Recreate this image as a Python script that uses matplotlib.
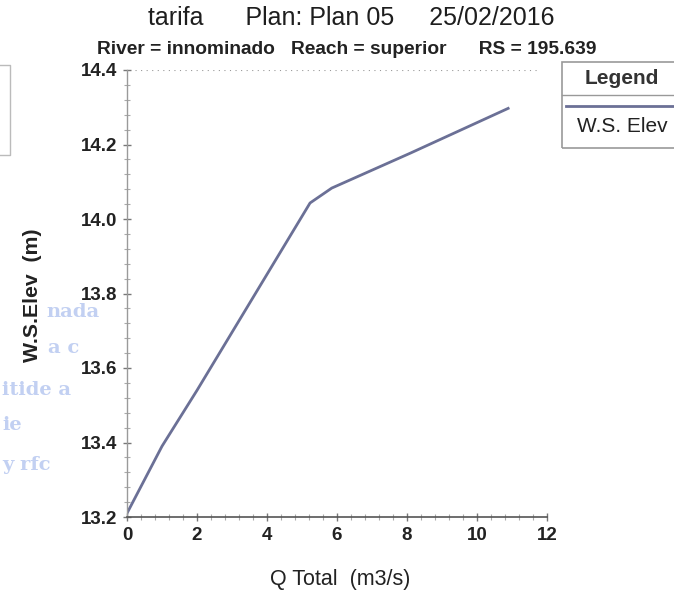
import matplotlib
matplotlib.use("Agg")
import matplotlib.pyplot as plt
from matplotlib.ticker import MultipleLocator
from matplotlib.lines import Line2D
from matplotlib.patches import Rectangle

plt.rcParams['font.family'] = ['Liberation Sans', 'DejaVu Sans']

q_total = [0.0, 1.0, 2.0, 5.23, 5.85, 8.1, 10.89]
ws_elev = [13.21, 13.39, 13.54, 14.043, 14.083, 14.177, 14.297]

title_line1 = "tarifa      Plan: Plan 05     25/02/2016"
title_line2 = "River = innominado   Reach = superior      RS = 195.639"
x_label = "Q Total  (m3/s)"
y_label = "W.S.Elev  (m)"
series_name = "W.S. Elev"
line_color = "#6b7096"

W, H = 674, 600
fig = plt.figure(figsize=(W / 100, H / 100), dpi=100)
ax = fig.add_axes([127 / W, 1 - 517 / H, 420 / W, 447 / H])

ax.plot(q_total, ws_elev, color=line_color, lw=2.0, solid_joinstyle='round')

ax.set_xlim(0, 12)
ax.set_ylim(13.2, 14.4)
ax.xaxis.set_major_locator(MultipleLocator(2))
ax.xaxis.set_minor_locator(MultipleLocator(0.4))
ax.yaxis.set_minor_locator(MultipleLocator(0.04))
ax.set_yticks([13.2, 13.4, 13.6, 13.8, 14.0, 14.2, 14.4])
ax.set_yticklabels(["13.2", "13.4", "13.6", "13.8", "14.0", "14.2", "14.4"])

for s in ['top', 'right']:
    ax.spines[s].set_visible(False)
ax.spines['left'].set_color('#9a9a9a')
ax.spines['bottom'].set_color('#555555')
ax.spines['left'].set_linewidth(1.0)
ax.spines['bottom'].set_linewidth(1.2)

ax.tick_params(axis='both', which='major', direction='inout', length=6, width=1,
               color='#777777', labelsize=13.5, labelcolor='#222222', pad=4)
ax.tick_params(axis='both', which='minor', direction='inout', length=4, width=0.8,
               color='#aaaaaa')
for lab in ax.get_xticklabels() + ax.get_yticklabels():
    lab.set_fontweight('bold')

# faint dotted artefact along top
ax.axhline(14.4, color='#999999', lw=0.8, ls=(0, (1, 4)), xmin=0.02, xmax=0.98)

fig.text(351 / W, 1 - 18 / H, title_line1, ha='center', va='center',
         fontsize=18, color='#1e1e1e')
fig.text(347 / W, 1 - 49 / H, title_line2, ha='center', va='center',
         fontsize=13.8, fontweight='bold', color='#222222')
fig.text(340 / W, 1 - 580 / H, x_label, ha='center', va='center',
         fontsize=15.5, color='#222222')
fig.text(33 / W, 1 - 295 / H, y_label, ha='center', va='center',
         fontsize=15.3, fontweight='bold', rotation=90, color='#222222')

# legend box (partially off the page)
fig.patches.append(Rectangle((562 / W, 1 - 148 / H), 130 / W, 86 / H,
                             transform=fig.transFigure, fill=False,
                             edgecolor='#999999', lw=1.2))
fig.lines.append(Line2D([562 / W, 1], [1 - 95 / H, 1 - 95 / H],
                        transform=fig.transFigure, color='#999999', lw=1.0))
fig.lines.append(Line2D([566 / W, 1], [1 - 106 / H, 1 - 106 / H],
                        transform=fig.transFigure, color=line_color, lw=2.0))
fig.text(622 / W, 1 - 78 / H, "Legend", ha='center', va='center',
         fontsize=15, fontweight='bold', color='#333333')
fig.text(622 / W, 1 - 126 / H, series_name, ha='center', va='center',
         fontsize=15, color='#222222')

# partial box at the far left
fig.lines.append(Line2D([0, 10 / W, 10 / W, 0],
                        [1 - 65 / H, 1 - 65 / H, 1 - 155 / H, 1 - 155 / H],
                        transform=fig.transFigure, color='#bbbbbb', lw=1.0))

# faint bleed-through text from scan
ghost = [("nada", 46, 312), ("a c", 48, 348), ("itide a", 2, 390),
         ("ie", 2, 425), ("y rfc", 2, 465)]
for t, xx, yy in ghost:
    fig.text(xx / W, 1 - yy / H, t, ha='left', va='center', fontsize=14,
             fontweight='bold', color='#c2d0f2', family='DejaVu Serif')

fig.savefig("out.png", dpi=100, facecolor='white')
